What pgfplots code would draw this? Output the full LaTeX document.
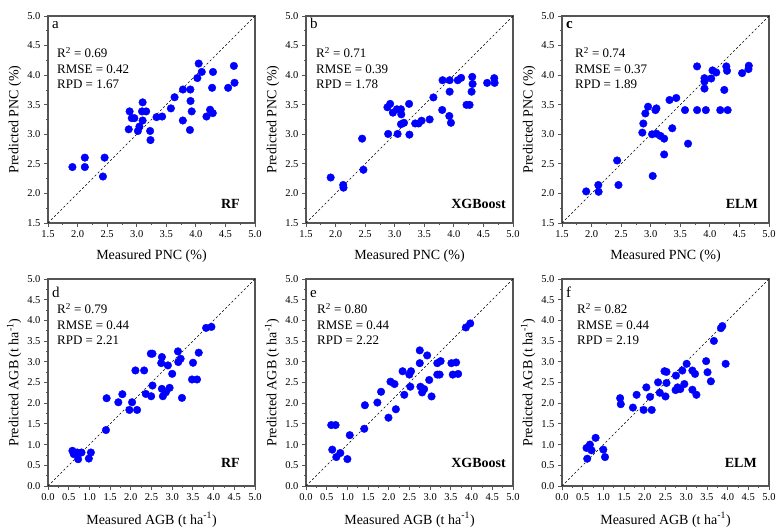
\documentclass[border=0pt]{standalone}
\usepackage{pgfplots}
\pgfplotsset{compat=1.18}
\usepackage{fontspec}
\setmainfont{Liberation Serif}
\definecolor{ptblue}{RGB}{0,0,255}
\definecolor{framegray}{RGB}{85,85,85}
\pgfplotsset{
  panel/.style={
    scale only axis, width=207pt, height=207pt, anchor=south west,
    axis line style={framegray, line width=1.1pt},
    tick align=outside, xtick pos=lower, ytick pos=left,
    major tick length=4pt, minor tick length=2.2pt, minor tick num=1,
    every tick/.style={framegray, line width=0.8pt},
    tick label style={font=\fontsize{10.5}{12}\selectfont},
    label style={font=\fontsize{14}{16}\selectfont},
    /pgf/number format/fixed, /pgf/number format/fixed zerofill,
    /pgf/number format/precision=1, /pgf/number format/assume math mode=true,
    xtick distance=0.5, ytick distance=0.5,
    xlabel style={yshift=-5pt},
    ylabel style={yshift=-1pt},
  },
  pnc/.style={panel, xmin=1.5, xmax=5, ymin=1.5, ymax=5,
    xlabel={Measured PNC (\%)}, ylabel={Predicted PNC (\%)}},
  agb/.style={panel, xmin=0, xmax=5, ymin=0, ymax=5,
    xlabel={Measured AGB (t ha\textsuperscript{-1})}, ylabel={Predicted AGB (t ha\textsuperscript{-1})}},
  pts/.style={only marks, mark=*, mark size=3.8pt, color=ptblue, mark options={draw=ptblue, fill=ptblue}},
  one/.style={black, dashed, line width=0.6pt, dash pattern=on 2.2pt off 2.2pt},
}
\tikzset{
  stat/.style={anchor=base west, font=\fontsize{13}{15}\selectfont, inner sep=0pt},
  lett/.style={anchor=base west, font=\fontsize{15}{17}\selectfont, inner sep=0pt},
  model/.style={anchor=base east, font=\fontsize{14}{16}\selectfont\bfseries, inner sep=0pt},
}
\begin{document}
\begin{tikzpicture}
\useasboundingbox (0,0) rectangle (777pt,530pt);
% ---------------- a ----------------
\begin{axis}[pnc, at={(48pt,307pt)}]
\addplot[one] coordinates {(1.5,1.5) (5,5)};
\addplot[pts] coordinates {
(1.913,2.446) (2.123,2.605) (2.123,2.446) (2.457,2.605) (2.429,2.286)
(2.865,3.084) (2.88,3.387) (2.916,3.273) (2.96,3.273) (3.02,3.056)
(3.046,3.13) (3.10,3.54) (3.09,3.387) (3.16,3.387) (3.10,3.233)
(3.227,3.056) (3.233,2.902) (3.335,3.29) (3.43,3.30) (3.578,3.438)
(3.64,3.626) (3.782,3.757) (3.907,3.757) (3.91,3.563) (3.93,3.387)
(3.78,3.233) (3.90,3.073) (4.048,4.196) (4.025,3.951) (4.10,4.054)
(4.29,4.054) (4.275,3.786) (4.24,3.415) (4.286,3.358) (4.18,3.30)
(4.546,3.786) (4.643,4.156) (4.654,3.871)};
\node[lett, xshift=4pt, yshift=-13pt] at (rel axis cs:0,1) {a};
\node[stat, xshift=9pt, yshift=-42pt] at (rel axis cs:0,1) {R\textsuperscript{2} = 0.69};
\node[stat, xshift=9pt, yshift=-57.5pt] at (rel axis cs:0,1) {RMSE = 0.42};
\node[stat, xshift=9pt, yshift=-73pt] at (rel axis cs:0,1) {RPD = 1.67};
\node[model, xshift=-15pt, yshift=14pt] at (rel axis cs:1,0) {RF};
\end{axis}
% ---------------- b ----------------
\begin{axis}[pnc, at={(306pt,307pt)}]
\addplot[one] coordinates {(1.5,1.5) (5,5)};
\addplot[pts] coordinates {
(1.917,2.269) (2.129,2.143) (2.134,2.097) (2.449,2.926) (2.471,2.40)
(2.877,3.457) (2.923,3.514) (2.969,3.366) (3.037,3.423) (3.106,3.423)
(3.111,3.337) (2.889,3.006) (3.049,3.006) (3.106,3.171) (3.157,3.194)
(3.243,3.514) (3.249,2.994) (3.346,3.183) (3.403,3.183) (3.454,3.229)
(3.591,3.251) (3.654,3.623) (3.803,3.411) (3.809,3.914) (3.929,3.914)
(3.929,3.72) (3.923,3.309) (3.951,3.194) (4.066,3.914) (4.123,3.954)
(4.214,3.497) (4.266,3.497) (4.30,3.72) (4.311,3.971) (4.317,3.851)
(4.563,3.869) (4.683,3.949) (4.689,3.869)};
\node[lett, xshift=4pt, yshift=-13pt] at (rel axis cs:0,1) {b};
\node[stat, xshift=10pt, yshift=-42pt] at (rel axis cs:0,1) {R\textsuperscript{2} = 0.71};
\node[stat, xshift=10pt, yshift=-57.5pt] at (rel axis cs:0,1) {RMSE = 0.39};
\node[stat, xshift=10pt, yshift=-73pt] at (rel axis cs:0,1) {RPD = 1.78};
\node[model, xshift=-7pt, yshift=14pt] at (rel axis cs:1,0) {XGBoost};
\end{axis}
% ---------------- c ----------------
\begin{axis}[pnc, at={(562pt,307pt)}]
\addplot[one] coordinates {(1.5,1.5) (5,5)};
\addplot[pts] coordinates {
(1.909,2.034) (2.114,2.142) (2.119,2.028) (2.432,2.557) (2.455,2.142)
(2.858,3.028) (2.875,3.182) (2.909,3.352) (2.955,3.466) (3.08,3.409)
(3.097,3.438) (3.034,2.295) (3.023,3.0) (3.097,3.011) (3.165,2.972)
(3.227,2.926) (3.227,2.659) (3.318,3.58) (3.432,3.614) (3.364,3.102)
(3.58,3.409) (3.631,2.841) (3.784,4.148) (3.784,3.409) (3.909,3.949)
(3.909,3.892) (3.909,3.773) (3.932,3.409) (4.023,3.943) (4.045,4.08)
(4.108,4.045) (4.176,3.409) (4.244,3.75) (4.278,4.148) (4.29,4.074)
(4.301,3.409) (4.545,4.034) (4.653,4.102) (4.659,4.159)};
\node[lett, xshift=4pt, yshift=-13pt, font=\fontsize{15}{17}\selectfont\bfseries] at (rel axis cs:0,1) {c};
\node[stat, xshift=13pt, yshift=-42pt] at (rel axis cs:0,1) {R\textsuperscript{2} = 0.74};
\node[stat, xshift=13pt, yshift=-57.5pt] at (rel axis cs:0,1) {RMSE = 0.37};
\node[stat, xshift=13pt, yshift=-73pt] at (rel axis cs:0,1) {RPD = 1.89};
\node[model, xshift=-11pt, yshift=14pt] at (rel axis cs:1,0) {ELM};
\end{axis}
% ---------------- d ----------------
\begin{axis}[agb, at={(48pt,44pt)}]
\addplot[one] coordinates {(0,0) (5,5)};
\addplot[pts] coordinates {
(0.59,0.85) (0.623,0.769) (0.704,0.809) (0.728,0.647) (0.809,0.809)
(0.987,0.663) (1.036,0.809) (1.40,1.351) (1.416,2.12) (1.699,2.023)
(1.796,2.217) (1.966,1.837) (2.031,2.023) (2.152,1.837) (2.112,2.791)
(2.322,2.791) (2.362,2.225) (2.492,2.168) (2.524,2.427) (2.484,3.196)
(2.524,3.196) (2.751,3.115) (2.735,2.969) (2.751,2.346) (2.775,2.168)
(2.848,2.265) (2.896,2.913) (2.937,2.371) (3.00,2.71) (3.147,2.994)
(3.139,3.252) (3.204,3.074) (3.236,2.128) (3.503,2.977) (3.479,2.573)
(3.60,2.573) (3.641,3.22) (3.819,3.819) (3.948,3.843)};
\node[lett, xshift=4pt, yshift=-18pt] at (rel axis cs:0,1) {d};
\node[stat, xshift=9pt, yshift=-34.5pt] at (rel axis cs:0,1) {R\textsuperscript{2} = 0.79};
\node[stat, xshift=9pt, yshift=-50.5pt] at (rel axis cs:0,1) {RMSE = 0.44};
\node[stat, xshift=9pt, yshift=-65.5pt] at (rel axis cs:0,1) {RPD = 2.21};
\node[model, xshift=-15pt, yshift=18pt] at (rel axis cs:1,0) {RF};
\end{axis}
% ---------------- e ----------------
\begin{axis}[agb, at={(306pt,44pt)}]
\addplot[one] coordinates {(0,0) (5,5)};
\addplot[pts] coordinates {
(0.61,1.472) (0.715,1.472) (0.634,0.878) (0.732,0.699) (0.829,0.797)
(1.0,0.65) (1.057,1.228) (1.407,1.382) (1.423,1.951) (1.724,2.016)
(1.813,2.276) (1.992,1.65) (2.041,2.52) (2.138,2.463) (2.171,1.854)
(2.333,2.772) (2.374,2.203) (2.52,2.398) (2.496,2.691) (2.537,2.772)
(2.748,3.276) (2.748,2.967) (2.764,2.398) (2.805,2.26) (2.854,2.341)
(2.927,3.154) (2.976,2.561) (3.033,2.163) (3.171,2.967) (3.171,2.691)
(3.252,3.016) (3.228,2.691) (3.512,2.967) (3.626,2.984) (3.545,2.691)
(3.675,2.707) (3.862,3.829) (3.967,3.927)};
\node[lett, xshift=4pt, yshift=-18pt] at (rel axis cs:0,1) {e};
\node[stat, xshift=11pt, yshift=-34.5pt] at (rel axis cs:0,1) {R\textsuperscript{2} = 0.80};
\node[stat, xshift=11pt, yshift=-50.5pt] at (rel axis cs:0,1) {RMSE = 0.44};
\node[stat, xshift=11pt, yshift=-65.5pt] at (rel axis cs:0,1) {RPD = 2.22};
\node[model, xshift=-7pt, yshift=18pt] at (rel axis cs:1,0) {XGBoost};
\end{axis}
% ---------------- f ----------------
\begin{axis}[agb, at={(562pt,44pt)}]
\addplot[one] coordinates {(0,0) (5,5)};
\addplot[pts] coordinates {
(0.593,0.919) (0.609,0.659) (0.674,1.0) (0.714,0.862) (0.812,1.163)
(0.998,0.878) (1.039,0.699) (1.404,2.122) (1.42,1.976) (1.713,1.894)
(1.802,2.203) (1.972,1.837) (2.037,2.382) (2.127,2.154) (2.167,1.837)
(2.321,2.504) (2.362,2.252) (2.50,2.163) (2.524,2.488) (2.476,2.772)
(2.524,2.756) (2.752,2.667) (2.744,2.317) (2.792,2.382) (2.857,2.341)
(2.906,2.789) (2.955,2.463) (3.011,2.951) (3.149,2.789) (3.214,2.707)
(3.149,2.325) (3.247,2.203) (3.482,3.016) (3.515,2.748) (3.596,2.528)
(3.669,3.504) (3.839,3.813) (3.872,3.862) (3.953,2.951)};
\node[lett, xshift=4pt, yshift=-18pt] at (rel axis cs:0,1) {f};
\node[stat, xshift=15pt, yshift=-34.5pt] at (rel axis cs:0,1) {R\textsuperscript{2} = 0.82};
\node[stat, xshift=15pt, yshift=-50.5pt] at (rel axis cs:0,1) {RMSE = 0.44};
\node[stat, xshift=15pt, yshift=-65.5pt] at (rel axis cs:0,1) {RPD = 2.19};
\node[model, xshift=-12pt, yshift=18pt] at (rel axis cs:1,0) {ELM};
\end{axis}
\end{tikzpicture}
\end{document}
